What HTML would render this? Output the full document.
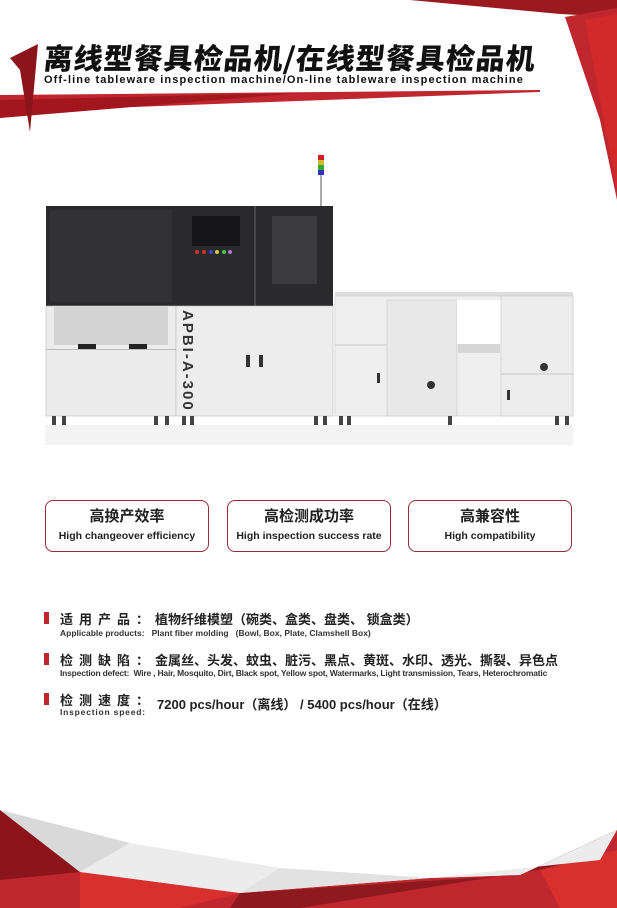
<!DOCTYPE html>
<html><head><meta charset="utf-8">
<style>
*{margin:0;padding:0;box-sizing:border-box}
body{width:617px;height:908px;overflow:hidden;background:#fff;position:relative;font-family:"Liberation Sans","Noto Sans CJK SC",sans-serif}
.abs{position:absolute}
.title{left:44px;top:36px;font-size:29px;font-weight:900;color:#111;letter-spacing:1px;white-space:nowrap;font-family:"Noto Sans CJK SC",sans-serif;transform:skewX(-6deg)}
.sub{left:44px;top:74px;font-size:11px;font-weight:bold;color:#111;letter-spacing:1.1px;white-space:nowrap}
.box{top:500px;height:52px;width:164px;border:1.5px solid #9a2a35;border-radius:8px;text-align:center}
.box .c{font-size:15px;font-weight:bold;color:#222;margin-top:7px;line-height:18px}
.box .e{font-size:10.5px;color:#222;margin-top:4px;font-weight:bold}
.row{left:44px;white-space:nowrap;color:#222}
.bar{position:absolute;left:44px;width:5px;height:12px;background:#c0262d}
.k{font-size:13px;font-weight:bold;letter-spacing:6px}
.small{font-size:8.5px;color:#333;font-weight:bold}
</style></head><body>
<svg class="abs" style="left:0;top:0" width="617" height="908">
 <!-- top right red -->
 <polygon points="410,0 617,0 617,17 560,14" fill="#9a1a20"/>
 <polygon points="565,17 617,8 617,200 600,120" fill="#c0262d"/>
 <polygon points="585,20 617,14 617,190" fill="#d22a2a"/>
 <!-- red band -->
 <polygon points="0,95 540,90 540,92 0,112" fill="#c0262d"/>
 <polygon points="0,100 300,93 0,118" fill="#a3161d"/>
 <polygon points="10,58 38,44 30,132 20,70" fill="#8c151b"/>
 <!-- footer -->
 <polygon points="0,810 80,872 240,893 430,878 520,875 617,830 617,908 0,908" fill="#c0262d"/>
 <polygon points="0,810 80,872 0,880" fill="#8c151b"/>
 <polygon points="0,810 130,843 80,872" fill="#d9d9d9"/>
 <polygon points="80,872 240,893 180,908 80,908" fill="#d8302f"/>
 <polygon points="240,893 520,875 617,830 600,860 300,908 230,908" fill="#8e1a20"/>
 <polygon points="540,870 617,850 617,908 560,908" fill="#d8302f"/>
 <polygon points="130,843 280,868 240,893 80,872" fill="#ececec"/>
 <polygon points="280,868 430,878 240,893" fill="#e2e2e2"/>
 <polygon points="430,878 600,860 617,830 520,875" fill="#ececec"/>

 <!-- machine -->
 <g>
  <rect x="45" y="425" width="528" height="20" fill="#f3f3f3"/>
  <rect x="46" y="206" width="130" height="100" fill="#2a2a2c"/>
  <rect x="50" y="210" width="122" height="92" fill="#323234"/>
  <rect x="46" y="306" width="130" height="110" fill="#ececec" stroke="#bbb" stroke-width="0.6"/>
  <rect x="54" y="307" width="114" height="38" fill="#d3d3d3"/>
  <rect x="78" y="344" width="18" height="6" fill="#222"/><rect x="129" y="344" width="18" height="6" fill="#222"/>
  <rect x="46" y="349" width="130" height="1" fill="#bbb"/>
  <rect x="176" y="206" width="157" height="100" fill="#2a2a2c"/>
  <rect x="192" y="216" width="48" height="30" fill="#15151a"/>
  <rect x="272" y="216" width="45" height="68" fill="#3c3c40"/>
  <line x1="255" y1="206" x2="255" y2="416" stroke="#777" stroke-width="0.8"/>
  <circle cx="197" cy="252" r="2" fill="#c33"/><circle cx="204" cy="252" r="2" fill="#c33"/><circle cx="211" cy="252" r="2" fill="#44c"/><circle cx="217" cy="252" r="2" fill="#cc4"/><circle cx="224" cy="252" r="2" fill="#4c4"/><circle cx="230" cy="252" r="2" fill="#a7c"/>
  <rect x="176" y="306" width="157" height="110" fill="#ededed" stroke="#bbb" stroke-width="0.6"/>
  <rect x="246" y="355" width="4" height="12" fill="#333"/><rect x="259" y="355" width="4" height="12" fill="#333"/>
  <text x="0" y="0" transform="translate(183,310) rotate(90)" font-family="Liberation Sans" font-weight="bold" font-size="15" fill="#333" letter-spacing="2">APBI-A-300</text>
  <rect x="318" y="155" width="6" height="5" fill="#c22"/><rect x="318" y="160" width="6" height="5" fill="#cb3"/><rect x="318" y="165" width="6" height="5" fill="#3a3"/><rect x="318" y="170" width="6" height="5" fill="#33b"/>
  <rect x="320" y="175" width="2" height="31" fill="#aaa"/>
  <rect x="335" y="292" width="238" height="4" fill="#ddd"/>
  <rect x="335" y="296" width="238" height="120" fill="#efefef" stroke="#c8c8c8" stroke-width="0.6"/>
  <rect x="387" y="300" width="70" height="116" fill="#e8e8e8" stroke="#c8c8c8" stroke-width="0.6"/>
  <rect x="457" y="300" width="44" height="44" fill="#fff"/>
  <rect x="458" y="344" width="42" height="9" fill="#d6d6d6"/>
  <rect x="501" y="296" width="72" height="120" fill="#ededed" stroke="#c8c8c8" stroke-width="0.6"/>
  <line x1="335" y1="345" x2="387" y2="345" stroke="#c8c8c8"/><line x1="501" y1="374" x2="573" y2="374" stroke="#c8c8c8"/>
  <circle cx="431" cy="385" r="4" fill="#333"/><circle cx="544" cy="367" r="4" fill="#333"/>
  <rect x="377" y="373" width="3" height="10" fill="#333"/><rect x="507" y="390" width="3" height="10" fill="#333"/>
  <g fill="#444">
   <rect x="52" y="416" width="4" height="9"/><rect x="62" y="416" width="4" height="9"/><rect x="154" y="416" width="4" height="9"/><rect x="165" y="416" width="4" height="9"/>
   <rect x="182" y="416" width="4" height="9"/><rect x="190" y="416" width="4" height="9"/><rect x="314" y="416" width="4" height="9"/><rect x="323" y="416" width="4" height="9"/>
   <rect x="339" y="416" width="4" height="9"/><rect x="347" y="416" width="4" height="9"/><rect x="448" y="416" width="4" height="9"/><rect x="555" y="416" width="4" height="9"/><rect x="565" y="416" width="4" height="9"/>
  </g>
 </g>
</svg>

<div class="abs title">离线型餐具检品机/在线型餐具检品机</div>
<div class="abs sub">Off-line tableware inspection machine/On-line tableware inspection machine</div>

<div class="abs box" style="left:45px"><div class="c">高换产效率</div><div class="e">High changeover efficiency</div></div>
<div class="abs box" style="left:227px"><div class="c">高检测成功率</div><div class="e">High inspection success rate</div></div>
<div class="abs box" style="left:408px"><div class="c">高兼容性</div><div class="e">High compatibility</div></div>

<div class="bar" style="top:612px"></div>
<div class="abs row" style="left:60px;top:609px"><span class="k">适用产品：</span><span style="font-size:13px;font-weight:bold">植物纤维模塑（碗类、盒类、盘类、 锁盒类）</span></div>
<div class="abs row small" style="left:60px;top:628px">Applicable products:&nbsp;&nbsp; Plant fiber molding &nbsp;&nbsp;(Bowl, Box, Plate, Clamshell Box)</div>

<div class="bar" style="top:653px"></div>
<div class="abs row" style="left:60px;top:650px"><span class="k">检测缺陷：</span><span style="font-size:13px;font-weight:bold">金属丝、头发、蚊虫、脏污、黑点、黄斑、水印、透光、撕裂、异色点</span></div>
<div class="abs row small" style="left:60px;top:668px;letter-spacing:-0.2px">Inspection defect:&nbsp; Wire , Hair, Mosquito, Dirt, Black spot, Yellow spot, Watermarks, Light transmission, Tears, Heterochromatic</div>

<div class="bar" style="top:693px"></div>
<div class="abs row" style="left:60px;top:690px"><span class="k">检测速度：</span></div>
<div class="abs row" style="left:157px;top:694px;font-size:13px;font-weight:bold">7200 pcs/hour（离线） / 5400 pcs/hour（在线）</div>
<div class="abs row small" style="left:60px;top:707px;letter-spacing:0.8px">Inspection speed:</div>
</body></html>
